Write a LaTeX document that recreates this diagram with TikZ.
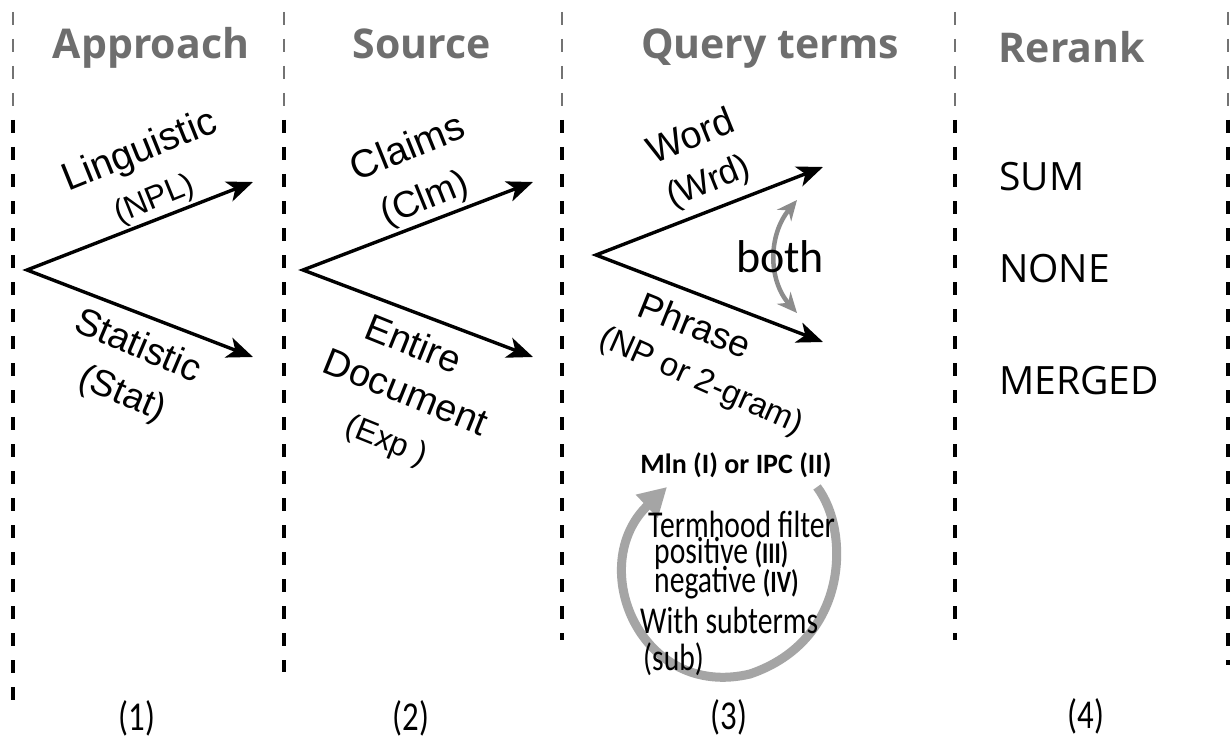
\documentclass[tikz,border=0pt]{standalone}
\usepackage{fontspec}
\usepackage{graphicx}
\setmainfont{Liberation Sans}
\newfontfamily\osans{Open Sans}
\newfontfamily\carl{Carlito}
\usetikzlibrary{arrows.meta}
\definecolor{hdrgray}{RGB}{110,110,110}
\definecolor{loopgray}{RGB}{165,165,165}
\definecolor{bothgray}{RGB}{140,140,140}
\newcommand{\fs}[1]{\fontsize{#1}{#1}\selectfont}
\newcommand{\narrow}[1]{\scalebox{0.78}[1]{#1}}
% dashed column separator: faint top, bold body
\newcommand{\sepline}[2]{%
  \draw[sepfaint] (#1,12) -- (#1,120);
  \draw[sepbold] (#1,120) -- (#1,#2);
}
\begin{document}
\begin{tikzpicture}[x=1pt,y=-1pt,
  hdr/.style={font=\osans\bfseries\fs{41}, text=hdrgray, inner sep=0pt, anchor=base},
  lab/.style={font=\fs{38}, inner sep=0pt},
  sublab/.style={font=\fs{32}, inner sep=0pt},
  flow/.style={line width=3.4pt, line join=miter,
    arrows={Stealth[length=26pt,width=21pt,inset=7pt]-Stealth[length=26pt,width=21pt,inset=7pt]}},
  sepfaint/.style={line width=1.8pt, black!55, dash pattern=on 13pt off 14pt},
  sepbold/.style={line width=3.6pt, dash pattern=on 13pt off 14pt},
  rr/.style={font=\osans\fs{39}, inner sep=0pt, anchor=base west},
  cnd/.style={font=\carl\fs{38}, inner sep=0pt, anchor=base west},
  num/.style={font=\carl\fs{41}, inner sep=0pt},
]
\useasboundingbox[fill=white] (0,0) rectangle (1232,741);

% column separators
\sepline{13}{700}
\sepline{284}{672}
\sepline{562}{640}
\sepline{955}{640}
\sepline{1228}{665}

% column headers
\node[hdr] (hA) at (151,59) {Approach};
\node[hdr] (hS) at (422,59) {Source};
\node[hdr] (hQ) at (770,59) {Query terms};
\node[hdr] (hR) at (1072,63) {Rerank};

% (1) approach
\coordinate (o1) at (27,270);
\coordinate (u1) at (253,182);
\coordinate (l1) at (253,357);
\draw[flow] (u1) -- (o1) -- (l1);
\node[lab, font=\fs{39}, rotate=22] (ling) at (140,152) {Linguistic};
\node[sublab, rotate=22] (npl) at (155,200) {(NPL)};
\node[lab, rotate=-23] (stat) at (139,344) {Statistic};
\node[lab, font=\fs{37}, rotate=-23] (statab) at (122,395) {(Stat)};

% (2) source
\coordinate (o2) at (303,270);
\coordinate (u2) at (533,182);
\coordinate (l2) at (533,357);
\draw[flow] (u2) -- (o2) -- (l2);
\node[lab, font=\fs{39}, rotate=22] (clm) at (407,146) {Claims};
\node[lab, font=\fs{37}, rotate=22] (clmab) at (425,200) {(Clm)};
\node[lab, rotate=-22] (ent) at (414,343) {Entire};
\node[lab, rotate=-22] (doc) at (406,392) {Document};
\node[sublab, rotate=-22] (exp) at (386,442) {(Exp )};

% (3) query terms
\coordinate (o3) at (596,255);
\coordinate (u3) at (823,167);
\coordinate (l3) at (823,342);
\draw[flow] (u3) -- (o3) -- (l3);
\node[lab, rotate=22] (wrd) at (690,135) {Word};
\node[lab, font=\fs{35}, rotate=22] (wrdab) at (709,183) {(Wrd)};
\node[lab, font=\fs{37}, rotate=-22] (phr) at (695,325) {Phrase};
\node[sublab, font=\fs{33}, rotate=-24] (npg) at (701,382) {(NP or 2-gram)};

% both: word and phrase together
\coordinate (bt) at (797,200);
\coordinate (bb) at (797,313);
\draw[bothgray, line width=4.5pt,
  arrows={Stealth[length=20pt,width=18pt]-Stealth[length=20pt,width=18pt]}]
  (bt) .. controls (768,235) and (768,280) .. (bb);
\node[font=\carl\fs{46}, inner sep=0pt, anchor=base] (both) at (780,272) {both};

% refinement loop
\coordinate (ls) at (817,487);
\coordinate (lb) at (750,674);
\coordinate (le) at (667,487);
\draw[loopgray, line width=9pt, arrows={-Triangle[length=28pt,width=30pt]}]
  (ls) .. controls (850,530) and (850,640) .. (lb)
       .. controls (640,700) and (585,565) .. (le);
\node[font=\carl\bfseries\fs{28}, inner sep=0pt, anchor=base] (mln) at (736,473) {Mln (I) or IPC (II)};
\node[cnd] (t1) at (648,537) {\narrow{Termhood filter}};
\node[cnd] (t2) at (654,563) {\narrow{positive {\bfseries\fs{30}(III)}}};
\node[cnd] (t3) at (654,592) {\narrow{negative {\bfseries\fs{31}(IV)}}};
\node[cnd] (t4) at (640,633) {\narrow{With subterms}};
\node[cnd] (t5) at (643,670) {\narrow{(sub)}};

% (4) rerank
\node[rr] (sum) at (999,190) {SUM};
\node[rr] (none) at (999,282) {NONE};
\node[rr] (mrg) at (999,394) {MERGED};

% column numbers
\node[num] (n1) at (137,718) {\scalebox{0.8}[1]{(1)}};
\node[num] (n2) at (411,718) {\scalebox{0.8}[1]{(2)}};
\node[num] (n3) at (729,717) {\scalebox{0.8}[1]{(3)}};
\node[num] (n4) at (1086,716) {\scalebox{0.8}[1]{(4)}};
\end{tikzpicture}
\end{document}
